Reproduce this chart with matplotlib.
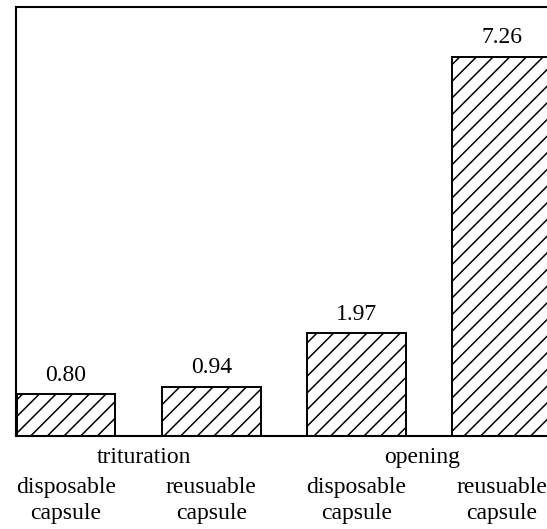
import matplotlib.pyplot as plt
from matplotlib.transforms import blended_transform_factory

# bar values
methods = ["trituration", "opening"]
capsules = ["disposable\ncapsule", "reusuable\ncapsule",
            "disposable\ncapsule", "reusuable\ncapsule"]
values = [0.80, 0.94, 1.97, 7.26]
value_labels = ["0.80", "0.94", "1.97", "7.26"]

plt.rcParams["font.family"] = ["Liberation Serif", "DejaVu Serif"]
plt.rcParams["hatch.linewidth"] = 1.1

fig = plt.figure(figsize=(5.47, 5.29), dpi=100)
ax = fig.add_axes([0.029, 0.176, 0.98, 0.81])

x = list(range(len(values)))
bars = ax.bar(x, values, width=0.68, color="white", edgecolor="black",
              linewidth=1.4, hatch="//")
ax.bar_label(bars, labels=value_labels, padding=6, fontsize=17)

ax.set_xlim(-0.345, 3.345)
ax.set_ylim(0, 8.2)
ax.set_xticks([])
ax.set_yticks([])
for side in ["top", "left", "bottom"]:
    ax.spines[side].set_linewidth(1.5)
ax.spines["right"].set_visible(False)

trans = blended_transform_factory(ax.transData, ax.transAxes)
# category labels under each bar
for xi, lab in zip(x, capsules):
    ax.text(xi, -0.095, lab, transform=trans, ha="center", va="top",
            fontsize=17, linespacing=1.35)
# method labels between the pairs
for xm, lab in zip([0.54, 2.45], methods):
    ax.text(xm, -0.025, lab, transform=trans, ha="center", va="top",
            fontsize=17)

plt.savefig("out.png", dpi=100)
